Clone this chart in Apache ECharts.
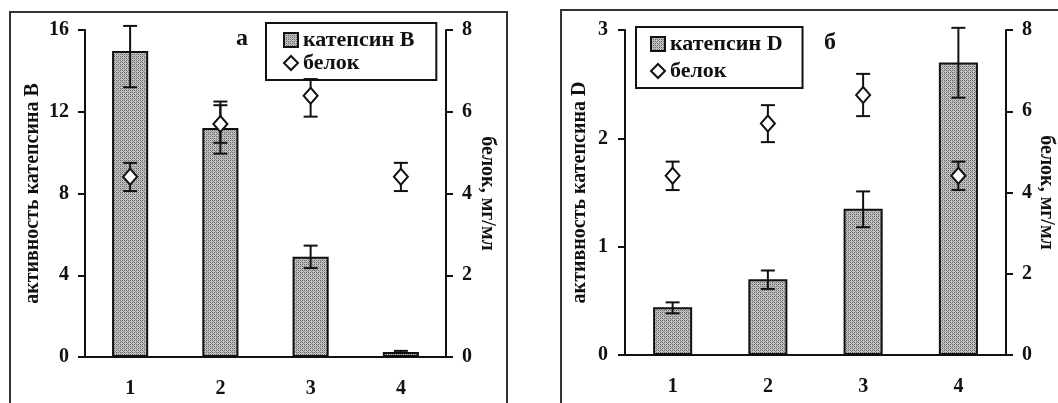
<!DOCTYPE html>
<html><head><meta charset="utf-8">
<script src="https://cdn.jsdelivr.net/npm/echarts@6/dist/echarts.min.js"></script>
<style>html,body{margin:0;padding:0;background:#fff}#c{width:1058px;height:403px}</style>
</head><body><div id="c"></div>
<script>
// ---- data ----
var categories = ['1', '2', '3', '4'];
// panel а
var cathB = [14.97, 11.2, 4.9, 0.25];
var cathBLow = [13.2, 9.95, 4.35, 0.2];
var cathBHigh = [16.2, 12.5, 5.45, 0.3];
var proteinA = [4.41, 5.7, 6.39, 4.41];
var proteinALow = [4.06, 5.24, 5.88, 4.06];
var proteinAHigh = [4.75, 6.16, 6.8, 4.75];
// panel б
var cathD = [0.44, 0.70, 1.35, 2.70];
var cathDLow = [0.385, 0.61, 1.18, 2.375];
var cathDHigh = [0.486, 0.78, 1.51, 3.02];
var proteinB = [4.41, 5.7, 6.4, 4.41];
var proteinBLow = [4.06, 5.24, 5.88, 4.06];
var proteinBHigh = [4.76, 6.15, 6.92, 4.76];
// tick settings
var leftATicks = {min: 0, max: 16, interval: 4};
var rightTicks = {min: 0, max: 8, interval: 2};
var leftBTicks = {min: 0, max: 3, interval: 1};

// ---- pattern fill ----
var pc = document.createElement('canvas');
pc.width = 4; pc.height = 4;
var g = pc.getContext('2d');
g.fillStyle = '#c2c2c2'; g.fillRect(0, 0, 4, 4);
g.fillStyle = '#6a6a6a';
g.fillRect(0, 0, 1, 1); g.fillRect(2, 2, 1, 1); g.fillRect(2, 0, 1, 1); g.fillRect(0, 2, 1, 1);
g.fillStyle = '#959595';
g.fillRect(1, 1, 1, 1); g.fillRect(3, 3, 1, 1);
var pattern = {image: pc, repeat: 'repeat'};

var FONT = 'Liberation Serif';
var INK = '#111';

function errData(low, high) {
  return low.map(function (l, i) { return [i, l, high[i]]; });
}
function errRender(params, api) {
  var x = api.value(0);
  var p1 = api.coord([x, api.value(1)]);
  var p2 = api.coord([x, api.value(2)]);
  var w = 7;
  var st = {stroke: INK, lineWidth: 2};
  return {type: 'group', children: [
    {type: 'line', shape: {x1: p1[0], y1: p1[1], x2: p2[0], y2: p2[1]}, style: st},
    {type: 'line', shape: {x1: p1[0] - w, y1: p1[1], x2: p1[0] + w, y2: p1[1]}, style: st},
    {type: 'line', shape: {x1: p2[0] - w, y1: p2[1], x2: p2[0] + w, y2: p2[1]}, style: st}
  ]};
}

var labelStyle = {fontFamily: FONT, fontWeight: 'bold', fontSize: 20, color: INK};
var nameStyle = {fontFamily: FONT, fontWeight: 'bold', fontSize: 20, color: INK};

function xAx(gi) {
  return {type: 'category', gridIndex: gi, data: categories, boundaryGap: true,
    axisLine: {lineStyle: {color: INK, width: 2}}, axisTick: {show: false},
    axisLabel: Object.assign({margin: 22}, labelStyle)};
}
function yAx(gi, pos, ticks, name, gap, rot, margin) {
  return Object.assign({type: 'value', gridIndex: gi, position: pos, name: name,
    nameLocation: 'middle', nameGap: gap, nameRotate: rot, nameTextStyle: nameStyle,
    splitLine: {show: false},
    axisLine: {show: true, lineStyle: {color: INK, width: 2}},
    axisTick: {show: true, inside: false, length: 7, lineStyle: {color: INK, width: 2}},
    axisLabel: Object.assign({margin: margin}, labelStyle)}, ticks);
}

var legendCommon = {orient: 'vertical', borderColor: INK, borderWidth: 2, itemWidth: 14, itemHeight: 14,
  textStyle: {fontFamily: FONT, fontWeight: 'bold', fontSize: 22, color: INK},
  backgroundColor: '#fff', selectedMode: false};

var option = {
  backgroundColor: '#fff',
  animation: false,
  graphic: [
    {type: 'rect', shape: {x: 10, y: 12, width: 497, height: 410}, style: {fill: 'none', stroke: '#333', lineWidth: 2}, silent: true},
    {type: 'rect', shape: {x: 561, y: 10, width: 510, height: 410}, style: {fill: 'none', stroke: '#333', lineWidth: 2}, silent: true},
    {type: 'text', left: 236, top: 27, style: {text: 'а', font: 'bold 24px "Liberation Serif"', fill: INK}},
    {type: 'text', left: 824, top: 31, style: {text: 'б', font: 'bold 24px "Liberation Serif"', fill: INK}}
  ],
  grid: [
    {left: 85, top: 30, width: 361, height: 327},
    {left: 625, top: 30, width: 381, height: 325}
  ],
  xAxis: [xAx(0), xAx(1)],
  yAxis: [
    yAx(0, 'left', leftATicks, 'активность катепсина В', 42, 90, 16),
    yAx(0, 'right', rightTicks, 'белок, мг/мл', 31, -90, 16),
    yAx(1, 'left', leftBTicks, 'активность катепсина D', 35, 90, 17),
    yAx(1, 'right', rightTicks, 'белок, мг/мл', 23, -90, 16)
  ],
  legend: [
    Object.assign({}, legendCommon, {left: 266, top: 23, padding: [6, 22, 6, 17], itemGap: 1,
      data: [{name: 'катепсин В', icon: 'rect'}, {name: 'белок', icon: 'diamond'}]}),
    Object.assign({}, legendCommon, {left: 636, top: 27, padding: [6, 20, 6, 14], itemGap: 5,
      data: [{name: 'катепсин D', icon: 'rect'}, {name: 'белок', icon: 'diamond'}]})
  ],
  series: [
    {name: 'катепсин В', type: 'bar', xAxisIndex: 0, yAxisIndex: 0, data: cathB, barWidth: '40%',
      itemStyle: {color: pattern, borderColor: INK, borderWidth: 2}, z: 2},
    {type: 'custom', xAxisIndex: 0, yAxisIndex: 0, data: errData(cathBLow, cathBHigh), renderItem: errRender,
      encode: {x: 0, y: [1, 2]}, z: 3, silent: true},
    {type: 'custom', xAxisIndex: 0, yAxisIndex: 1, data: errData(proteinALow, proteinAHigh), renderItem: errRender,
      encode: {x: 0, y: [1, 2]}, z: 4, silent: true},
    {name: 'белок', type: 'scatter', xAxisIndex: 0, yAxisIndex: 1, data: proteinA, symbol: 'diamond', symbolSize: [14, 16],
      itemStyle: {color: '#fff', borderColor: INK, borderWidth: 2, opacity: 1}, z: 5},

    {name: 'катепсин D', type: 'bar', xAxisIndex: 1, yAxisIndex: 2, data: cathD, barWidth: '41%',
      itemStyle: {color: pattern, borderColor: INK, borderWidth: 2}, z: 2},
    {type: 'custom', xAxisIndex: 1, yAxisIndex: 2, data: errData(cathDLow, cathDHigh), renderItem: errRender,
      encode: {x: 0, y: [1, 2]}, z: 3, silent: true},
    {type: 'custom', xAxisIndex: 1, yAxisIndex: 3, data: errData(proteinBLow, proteinBHigh), renderItem: errRender,
      encode: {x: 0, y: [1, 2]}, z: 4, silent: true},
    {name: 'белок', type: 'scatter', xAxisIndex: 1, yAxisIndex: 3, data: proteinB, symbol: 'diamond', symbolSize: [14, 16],
      itemStyle: {color: '#fff', borderColor: INK, borderWidth: 2, opacity: 1}, z: 5}
  ]
};
var chart = echarts.init(document.getElementById('c'), null, {renderer: 'canvas'});
chart.setOption(option);
</script></body></html>
